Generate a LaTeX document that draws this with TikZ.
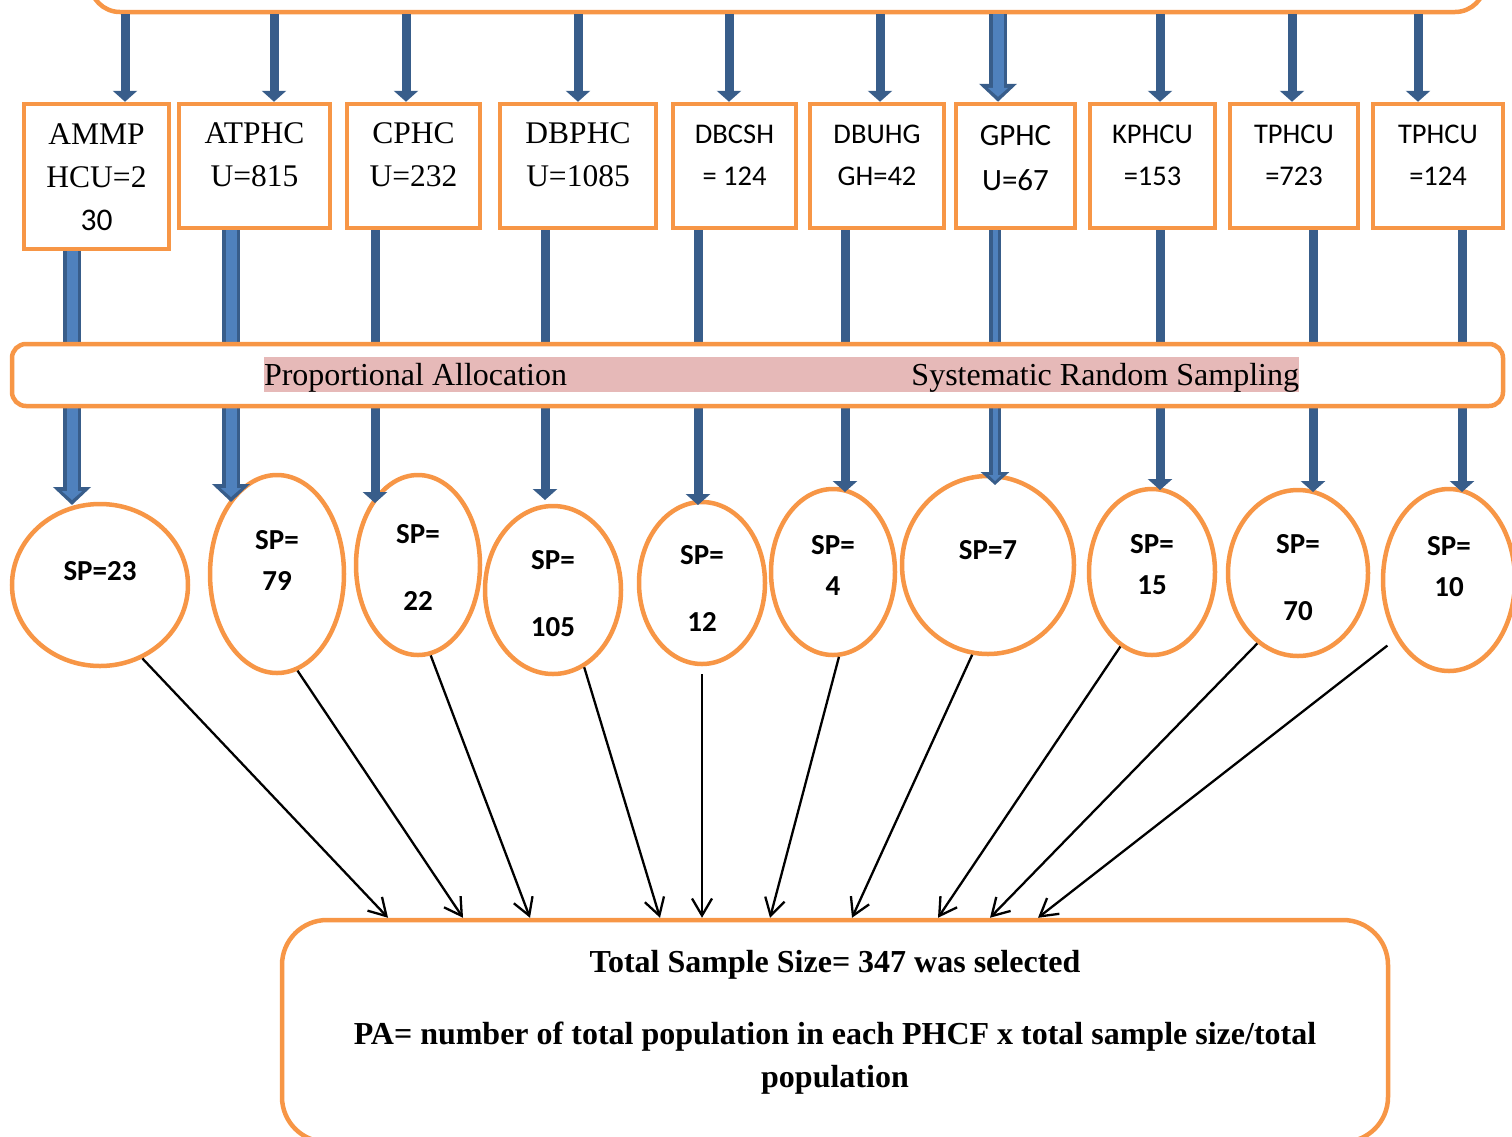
\documentclass[tikz,border=0pt]{standalone}
\usepackage{fontspec}
\setmainfont{Liberation Serif}
\newfontfamily\calibri{Carlito}
\usetikzlibrary{arrows.meta,shapes.geometric,positioning}

\definecolor{boxorange}{HTML}{F79646}
\definecolor{arrowblue}{HTML}{385D8A}
\definecolor{arrowlight}{HTML}{4F81BD}
\definecolor{markpink}{HTML}{E6B9B8}

\tikzset{
  obox/.style={draw=boxorange, line width=4.5pt, fill=white, inner sep=0pt},
  oval/.style={ellipse, draw=boxorange, line width=4.5pt, fill=white, inner sep=0pt},
  serifname/.style={align=center, inner sep=0pt, font=\fontsize{31.5}{43}\selectfont},
  sansname/.style={align=center, inner sep=0pt, font=\calibri\fontsize{28.5}{42}\selectfont},
  spval/.style={align=center, inner sep=0pt, font=\calibri\bfseries\fontsize{29}{41}\selectfont},
  bandtext/.style={inner sep=0pt, font=\fontsize{32}{38}\selectfont},
  bluebar/.style={arrowblue, line width=9pt, -{Triangle[width=24pt,length=11pt]}},
  fatbar/.style={arrowblue, line width=18pt, -{Triangle[width=37pt,length=18pt]}},
  fatcore/.style={arrowlight, line width=11pt, shorten >=5pt, -{Triangle[width=20pt,length=9pt]}},
  midbar/.style={arrowblue, line width=12pt, -{Triangle[width=28pt,length=13pt]}},
  midcore/.style={arrowlight, line width=5pt, shorten >=4pt, -{Triangle[width=12pt,length=6pt]}},
  pointer/.style={black, line width=2.3pt, -{Straight Barb[length=17pt,width=20pt]}}
}

\begin{document}
\begin{tikzpicture}[x=1pt,y=-1pt]
  \useasboundingbox (0,0) rectangle (1512,1136);
  \clip (0,0) rectangle (1512,1136);

  % source box (cut at the top)
  \node[obox, rounded corners=30pt, minimum width=1395pt, minimum height=60pt]
    (top) at (787.5,-18) {};

  % health facility boxes
  \foreach \i/\x/\w/\h in {1/96.5/145/145, 2/254.5/151/124, 3/413.5/133/124,
    4/578/156/124, 5/734.5/123/124, 6/877/134/124, 7/1015.5/119/124,
    8/1152.5/125/124, 9/1294/128/124, 10/1438/130/124}
    \node[obox, minimum width=\w pt, minimum height=\h pt] (b\i) at (\x,104+\h/2) {};

  % sample ovals
  \foreach \i/\x/\y/\a/\b in {1/100/585/176/162, 2/277/574/134/198,
    3/418/565/124/180, 4/553/590/136/168, 5/702/583/126/162,
    6/833/572/124/166, 7/988/565/172/178, 8/1152/572/126/166,
    9/1298/573/140/166, 10/1449/580/132/182}
    \node[oval, minimum width=\a pt, minimum height=\b pt] (e\i) at (\x,\y) {};

  % arrows into the facility boxes
  \foreach \i/\x in {1/125, 2/274, 3/406, 4/578, 5/729, 6/880, 8/1160, 9/1292, 10/1418}
    \draw[bluebar] (top.south -| \x,0) -- (b\i.north -| \x,0);
  \draw[fatbar] (top.south -| 998,0) -- (b7.north -| 998,0);
  \draw[fatcore] (top.south -| 998,0) -- (b7.north -| 998,0);

  % arrows down to the ovals
  \foreach \i/\x/\y in {3/375/503, 4/545/500, 5/698/505, 6/845/492,
    8/1160/490, 9/1313/492, 10/1462/492} {
    \coordinate (s\i) at (\x,\y);
    \draw[bluebar] (b\i.south -| \x,0) -- (s\i);
  }
  \foreach \i/\x/\y in {1/72/505, 2/231/502} {
    \coordinate (s\i) at (\x,\y);
    \draw[fatbar] (b\i.south -| \x,0) -- (s\i);
    \draw[fatcore] (b\i.south -| \x,0) -- (s\i);
  }
  \coordinate (s7) at (995,485);
  \draw[midbar] (b7.south -| 995,0) -- (s7);
  \draw[midcore] (b7.south -| 995,0) -- (s7);

  % sampling band
  \node[obox, rounded corners=14pt, minimum width=1491pt, minimum height=62pt]
    (band) at (757.5,375) {};
  \node[fill=markpink, inner sep=0pt, minimum width=1035pt, minimum height=35pt]
    (mark) at (781.5,374.5) {};
  \node[bandtext, anchor=base west] (alloc) at ([yshift=-10.5pt]mark.west)
    {Proportional Allocation};
  \node[bandtext, anchor=base east] (srs) at ([yshift=-10.5pt]mark.east)
    {Systematic Random Sampling};

  % facility names
  \node[serifname] (n1) at (96.5,177) {AMMP\\HCU=2\\{\calibri 30}};
  \foreach \i/\x/\t in {2/254.5/{ATPHC\\U=815}, 3/413.5/{CPHC\\U=232},
    4/578/{DBPHC\\U=1085}}
    \node[serifname] (n\i) at (\x,155) {\t};
  \foreach \i/\x/\t in {5/734.5/{DBCSH\\= 124}, 6/877/{DBUHG\\GH=42},
    8/1152.5/{KPHCU\\=153}, 9/1294/{TPHCU\\=723}, 10/1438/{TPHCU\\=124}}
    \node[sansname] (n\i) at (\x,155) {\t};
  \node[sansname, font=\calibri\fontsize{31}{45}\selectfont] (n7) at (1015.5,158.5) {GPHC\\U=67};

  % sample sizes
  \foreach \i/\x/\y/\t in {1/100/571/{SP=23}, 2/277/560/{SP=\\79},
    3/418/567/{SP=\\[26pt]22}, 4/553/594/{SP=\\[26pt]105},
    5/702/588/{SP=\\[26pt]12}, 6/833/565/{SP=\\4},
    7/988/550/{SP=7}, 8/1152/565/{SP=\\15}, 9/1298/578/{SP=\\[26pt]70},
    10/1449/567/{SP=\\10}}
    \node[spval] (v\i) at (\x,\y) {\t};

  % total box
  \node[obox, rounded corners=45pt, minimum width=1106pt, minimum height=222pt]
    (total) at (835,1031) {};
  \node[font=\bfseries\fontsize{32}{43}\selectfont] (sum) at (835,965)
    {Total Sample Size= 347 was selected};
  \node[align=center, font=\bfseries\fontsize{32}{43}\selectfont] (formula) at (835,1058)
    {PA= number of total population in each PHCF x total sample size/total\\population};

  % pointers into the total
  \foreach \i/\a/\x in {1/-60/388, 2/-78/463, 3/-82/530, 4/-68/660,
    6/-86/770, 7/-100/852, 8/-113/938, 9/-120/990}
    \draw[pointer] (e\i.\a) -- (total.north -| \x,0);
  \draw[pointer, shorten <=8pt] (e5.south) -- (total.north -| 702,0);
  \draw[pointer, shorten <=11pt] (e10.-132) -- (total.north -| 1038,0);
\end{tikzpicture}
\end{document}
